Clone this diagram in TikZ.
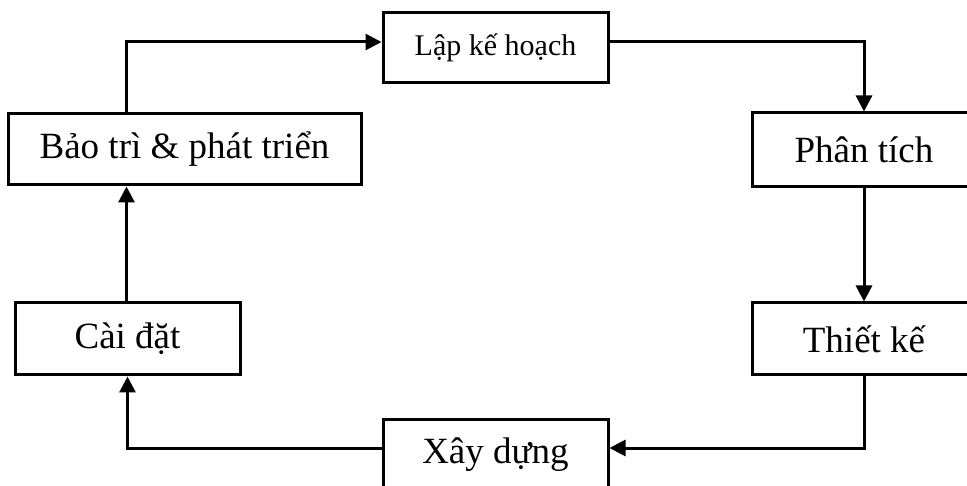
\documentclass[tikz,border=0pt]{standalone}
\usepackage{fontspec}
\setmainfont{Liberation Serif}
\usetikzlibrary{arrows.meta}
\begin{document}
\begin{tikzpicture}[x=1pt,y=-1pt,
  box/.style={draw=black,line width=3pt,rectangle,inner sep=0pt,font=\fontsize{37}{40}\selectfont},
  conn/.style={line width=3pt,-{Triangle[length=16pt,width=16pt]}}]
\clip (0,0) rectangle (967,486);
\fill[white] (0,0) rectangle (967,486);
\node[box,minimum width=225pt,minimum height=70pt,font=\fontsize{30}{34}\selectfont] (lap) at (495.5,48) {Lập kế hoạch};
\node[box,minimum width=353pt,minimum height=71pt] (bao) at (184.5,149.5) {Bảo trì \& phát triển};
\node[box,minimum width=224pt,minimum height=74pt] (phan) at (864,150) {Phân tích};
\node[box,minimum width=224pt,minimum height=72pt] (thiet) at (864,339) {Thiết kế};
\node[box,minimum width=225pt,minimum height=71pt] (xay) at (495.5,454.5) {Xây dựng};
\node[box,minimum width=225pt,minimum height=72pt] (cai) at (127.5,339) {Cài đặt};
\draw[conn] ([xshift=-58pt]bao.north) |- ([yshift=6pt]lap.west);
\draw[conn] ([yshift=6pt]lap.east) -| (phan.north);
\draw[conn] (phan.south) -- (thiet.north);
\draw[conn] (thiet.south) |- ([yshift=6.5pt]xay.east);
\draw[conn] ([yshift=6.5pt]xay.west) -| (cai.south);
\draw[conn] ([xshift=-1pt]cai.north) -- ([xshift=-1pt]cai.north |- bao.south);
\end{tikzpicture}
\end{document}
